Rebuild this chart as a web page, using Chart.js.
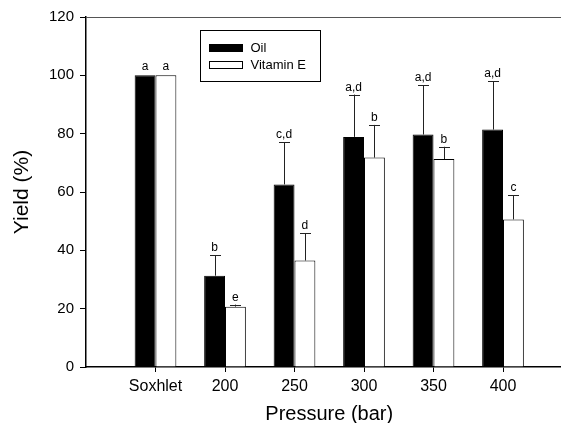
<!DOCTYPE html>
<html>
<head>
<meta charset="utf-8">
<script src="https://cdn.jsdelivr.net/npm/chart.js@4/dist/chart.umd.min.js"></script>
<style>
  html, body { margin: 0; padding: 0; background: #fff; overflow: hidden; }
  #wrap { width: 600px; height: 423px; }
</style>
</head>
<body>
<div id="wrap"><canvas id="yieldChart" width="600" height="423"></canvas></div>
<script>
// values
const categories = ['Soxhlet', '200', '250', '300', '350', '400'];
const oilYield = [100, 31.3, 62.6, 78.9, 79.7, 81.4];
const oilError = [0, 7.0, 14.5, 14.5, 16.9, 16.6];
const vitEYield = [100, 20.7, 36.5, 71.8, 71.3, 50.6];
const vitEError = [0, 0.7, 9.4, 11.2, 4.2, 8.3];
const oilLetters = ['a', 'b', 'c,d', 'a,d', 'a,d', 'a,d'];
const vitELetters = ['a', 'e', 'd', 'b', 'b', 'c'];
const yTicks = [0, 20, 40, 60, 80, 100, 120];

// blank slot on each side so the first group sits one step from the axis
const labels = [''].concat(categories, ['']);
const pad = arr => [null].concat(arr, [null]);
const errors = [pad(oilError), pad(vitEError)];
const letters = [pad(oilLetters), pad(vitELetters)];

const FONT = 'Arial, "Liberation Sans", sans-serif';

// error bars + significance letters
const errorBars = {
  id: 'errorBars',
  afterDatasetsDraw(chart) {
    const ctx = chart.ctx;
    const y = chart.scales.y;
    ctx.save();
    ctx.font = '12px ' + FONT;
    ctx.textAlign = 'center';
    ctx.textBaseline = 'alphabetic';
    chart.data.datasets.forEach((ds, i) => {
      chart.getDatasetMeta(i).data.forEach((bar, j) => {
        const v = ds.data[j];
        if (v == null) return;
        const e = errors[i][j] || 0;
        let top = bar.y;
        if (e > 0) {
          top = y.getPixelForValue(v + e);
          ctx.strokeStyle = '#222';
          ctx.lineWidth = 1;
          ctx.beginPath();
          ctx.moveTo(Math.round(bar.x) + 0.5, bar.y);
          ctx.lineTo(Math.round(bar.x) + 0.5, top);
          ctx.moveTo(Math.round(bar.x) - 5, Math.round(top) + 0.5);
          ctx.lineTo(Math.round(bar.x) + 6, Math.round(top) + 0.5);
          ctx.stroke();
        }
        ctx.fillStyle = '#000';
        ctx.fillText(letters[i][j], bar.x, top - (e > 0 ? 4 : 5));
      });
    });
    ctx.restore();
  }
};

// legend box inside the plot, plus top frame line
const boxLegend = {
  id: 'boxLegend',
  afterDraw(chart) {
    const ctx = chart.ctx;
    const a = chart.chartArea;
    ctx.save();
    ctx.strokeStyle = '#555';
    ctx.lineWidth = 1;
    ctx.beginPath();
    ctx.moveTo(a.left, Math.round(a.top) + 0.5);
    ctx.lineTo(a.right, Math.round(a.top) + 0.5);
    ctx.stroke();

    const bx = a.left + 114.5, by = a.top + 13.5;
    ctx.strokeStyle = '#000';
    ctx.strokeRect(bx, by, 120, 51);
    ctx.font = '13px ' + FONT;
    ctx.textBaseline = 'middle';
    ctx.textAlign = 'left';
    chart.data.datasets.forEach((ds, i) => {
      const ry = by + 14 + i * 17;
      ctx.fillStyle = ds.backgroundColor;
      ctx.fillRect(bx + 9, ry, 33, 7);
      ctx.strokeStyle = '#000';
      ctx.strokeRect(bx + 9, ry, 33, 7);
      ctx.fillStyle = '#000';
      ctx.fillText(ds.label, bx + 50, ry + 3.5);
    });
    ctx.restore();
  }
};

new Chart(document.getElementById('yieldChart'), {
  type: 'bar',
  data: {
    labels: labels,
    datasets: [{
      label: 'Oil',
      data: pad(oilYield),
      backgroundColor: '#000',
      borderColor: '#000',
      borderWidth: 1
    }, {
      label: 'Vitamin E',
      data: pad(vitEYield),
      backgroundColor: '#fff',
      borderColor: '#000',
      borderWidth: 1
    }]
  },
  options: {
    responsive: false,
    animation: false,
    layout: { padding: { top: 17, right: 27.5, bottom: 0, left: 0 } },
    datasets: { bar: { categoryPercentage: 0.6, barPercentage: 1.0 } },
    plugins: { legend: { display: false }, tooltip: { enabled: false } },
    scales: {
      x: {
        offset: false,
        grid: {
          offset: false,
          drawOnChartArea: false,
          tickLength: 5,
          color: '#000',
          tickColor: c => (labels[c.index] ? '#000' : 'rgba(0,0,0,0)')
        },
        border: { color: '#000', width: 1.5 },
        ticks: { autoSkip: false, maxRotation: 0, padding: 5, color: '#000', font: { family: FONT, size: 16 } },
        title: { display: true, text: 'Pressure (bar)', color: '#000', font: { family: FONT, size: 20, lineHeight: 0.9 }, padding: 0 },
        afterFit(scale) { scale.height = 56; }
      },
      y: {
        min: 0,
        max: 120,
        afterBuildTicks(scale) { scale.ticks = yTicks.map(v => ({ value: v })); },
        grid: { drawOnChartArea: false, tickLength: 6, color: '#000' },
        border: { color: '#000', width: 1.5 },
        ticks: { padding: 6, color: '#000', font: { family: FONT, size: 15 } },
        title: { display: true, text: 'Yield (%)', color: '#000', font: { family: FONT, size: 21 }, padding: { top: 10, bottom: 0 } },
        afterFit(scale) { scale.width = 86; }
      }
    }
  },
  plugins: [errorBars, boxLegend]
});
</script>
</body>
</html>
